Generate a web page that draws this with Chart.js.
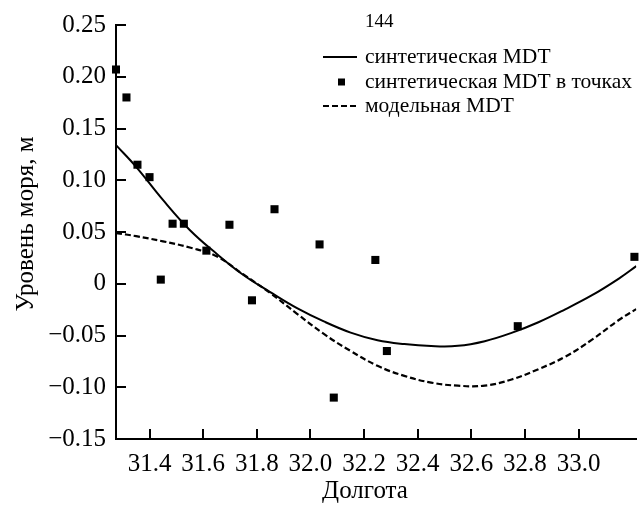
<!DOCTYPE html>
<html>
<head>
<meta charset="utf-8">
<script src="https://cdn.jsdelivr.net/npm/chart.js@4"></script>
<style>
  html, body { margin: 0; padding: 0; background: #fff; }
  canvas { display: block; }
</style>
</head>
<body>
<canvas id="chart" width="642" height="508"></canvas>
<script>
"use strict";

const FONT = "'Liberation Serif', 'Times New Roman', Times, 'DejaVu Serif', serif";

// axis ticks
const xTickValues = [31.4, 31.6, 31.8, 32.0, 32.2, 32.4, 32.6, 32.8, 33.0];
const yTickValues = [0.25, 0.2, 0.15, 0.1, 0.05, 0, -0.05, -0.1, -0.15];
const yTickLabels = ["0.25", "0.20", "0.15", "0.10", "0.05", "0", "\u22120.05", "\u22120.10", "\u22120.15"];

// synthetic MDT at the points
const pointLon = [31.275, 31.314, 31.355, 31.40, 31.442, 31.486, 31.528, 31.612, 31.698, 31.782, 31.866, 32.034, 32.087, 32.242, 32.285, 32.773, 33.208];
const pointMdt = [0.207, 0.180, 0.115, 0.103, 0.004, 0.058, 0.058, 0.032, 0.057, -0.016, 0.072, 0.038, -0.110, 0.023, -0.065, -0.041, 0.026];

// curves
const curveLon = [31.275, 31.35, 31.45, 31.55, 31.65, 31.75, 31.85, 31.95, 32.05, 32.15, 32.25, 32.35, 32.45, 32.55, 32.65, 32.75, 32.85, 32.95, 33.05, 33.15, 33.215];
const syntheticMdt = [0.134, 0.113, 0.081, 0.052, 0.029, 0.0085, -0.008, -0.0235, -0.0364, -0.0472, -0.0546, -0.0583, -0.0602, -0.0600, -0.0555, -0.0475, -0.0372, -0.0247, -0.0111, 0.005, 0.017];
const modelMdt = [0.049, 0.046, 0.041, 0.035, 0.0265, 0.009, -0.009, -0.029, -0.0485, -0.065, -0.0793, -0.089, -0.0955, -0.0985, -0.0984, -0.0925, -0.0825, -0.0705, -0.054, -0.035, -0.0245];

const pageLabel = "144";
const seriesNames = ["синтетическая MDT", "синтетическая MDT в точках", "модельная MDT"];
const xTitle = "Долгота";
const yTitle = "Уровень моря, м";

const toXY = (xs, ys) => xs.map((x, i) => ({ x: x, y: ys[i] }));

// inward tick marks, axis titles, legend block
const decorations = {
  id: "decorations",
  afterDraw(chart) {
    const ctx = chart.ctx;
    const xs = chart.scales.x;
    const ys = chart.scales.y;
    const area = chart.chartArea;
    ctx.save();
    ctx.strokeStyle = "#000";
    ctx.lineWidth = 2;
    ctx.beginPath();
    xTickValues.forEach((v) => {
      const px = Math.round(xs.getPixelForValue(v));
      ctx.moveTo(px, area.bottom);
      ctx.lineTo(px, area.bottom - 10);
    });
    yTickValues.forEach((v) => {
      const py = Math.round(ys.getPixelForValue(v));
      ctx.moveTo(area.left, py);
      ctx.lineTo(area.left + 10, py);
    });
    ctx.stroke();

    ctx.fillStyle = "#000";
    ctx.textBaseline = "middle";
    ctx.textAlign = "center";
    ctx.font = "25px " + FONT;
    ctx.fillText(xTitle, 365, 491);

    ctx.save();
    ctx.translate(26, 224);
    ctx.rotate(-Math.PI / 2);
    ctx.fillText(yTitle, 0, 0);
    ctx.restore();

    ctx.textAlign = "left";
    ctx.font = "19px " + FONT;
    ctx.fillText(pageLabel, 365, 22);

    // legend
    ctx.font = "21.5px " + FONT;
    const rows = [57, 82, 106];
    chart.data.datasets.forEach((ds, i) => {
      const y = rows[i];
      if (ds.showLine === false) {
        ctx.fillRect(338, y - 3.5, 7, 7);
      } else {
        ctx.lineWidth = 2;
        ctx.setLineDash(ds.borderDash || []);
        ctx.beginPath();
        ctx.moveTo(323, y);
        ctx.lineTo(357, y);
        ctx.stroke();
        ctx.setLineDash([]);
      }
      ctx.fillText(ds.label, 365, y);
    });
    ctx.restore();
  },
};

new Chart(document.getElementById("chart"), {
  type: "scatter",
  data: {
    datasets: [
      {
        label: seriesNames[0],
        data: toXY(curveLon, syntheticMdt),
        showLine: true,
        borderColor: "#000",
        borderWidth: 2,
        pointRadius: 0,
        tension: 0.4,
      },
      {
        label: seriesNames[1],
        data: toXY(pointLon, pointMdt),
        showLine: false,
        pointStyle: "rect",
        pointRadius: 5.7,
        pointBorderWidth: 0,
        backgroundColor: "#000",
        borderColor: "#000",
        clip: false,
      },
      {
        label: seriesNames[2],
        data: toXY(curveLon, modelMdt),
        showLine: true,
        borderColor: "#000",
        borderWidth: 2.2,
        borderDash: [6, 3],
        pointRadius: 0,
        tension: 0.4,
      },
    ],
  },
  options: {
    responsive: false,
    animation: false,
    devicePixelRatio: 1,
    layout: { padding: { top: 24, right: 0, bottom: 0, left: 0 } },
    plugins: {
      legend: { display: false },
      tooltip: { enabled: false },
    },
    scales: {
      x: {
        type: "linear",
        min: 31.275,
        max: 33.215,
        afterFit: (scale) => { scale.height = 69; },
        afterBuildTicks: (scale) => {
          scale.ticks = xTickValues.map((v) => ({ value: v }));
        },
        grid: { display: false, drawTicks: false },
        border: { display: true, color: "#000", width: 2 },
        ticks: {
          color: "#000",
          font: { family: FONT, size: 25 },
          padding: 10,
          maxRotation: 0,
          autoSkip: false,
          callback: (v) => v.toFixed(1),
        },
        title: { display: false },
      },
      y: {
        min: -0.15,
        max: 0.25,
        afterFit: (scale) => { scale.width = 116; },
        afterBuildTicks: (scale) => {
          scale.ticks = yTickValues.map((v) => ({ value: v }));
        },
        grid: { display: false, drawTicks: false },
        border: { display: true, color: "#000", width: 2 },
        ticks: {
          color: "#000",
          font: { family: FONT, size: 25 },
          padding: 10,
          callback: (v) => yTickLabels[yTickValues.findIndex((t) => Math.abs(t - v) < 1e-9)],
        },
        title: { display: false },
      },
    },
  },
  plugins: [decorations],
});
</script>
</body>
</html>
